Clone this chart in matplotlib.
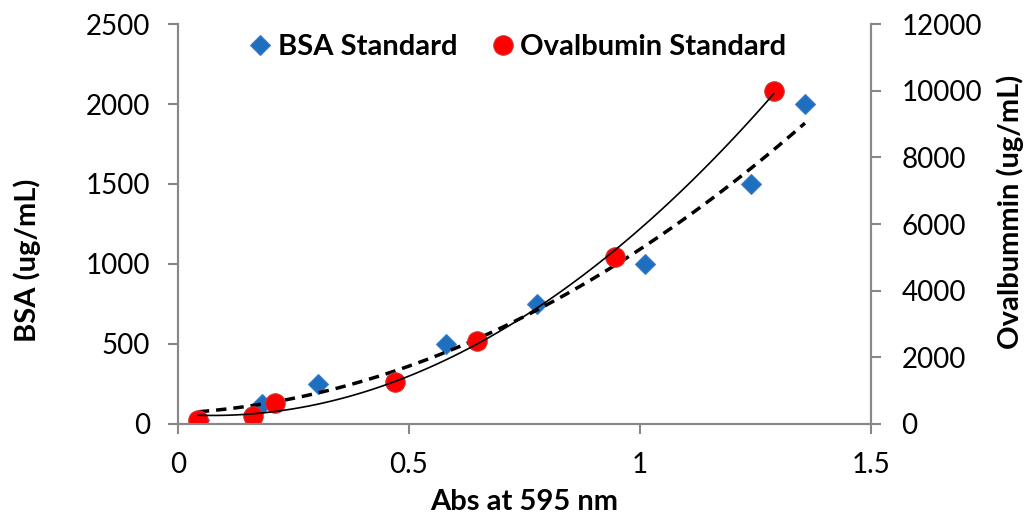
import numpy as np
import matplotlib
matplotlib.use("Agg")
from matplotlib import pyplot as plt

plt.rcParams['font.family'] = ['Lato', 'DejaVu Sans']

# BSA standard (left axis)
bsa_abs = [0.045, 0.182, 0.303, 0.581, 0.778, 1.01, 1.24, 1.357]
bsa_conc = [25, 125, 250, 500, 750, 1000, 1500, 2000]

# Ovalbumin standard (right axis)
ova_abs = [0.043, 0.163, 0.21, 0.47, 0.648, 0.945, 1.29]
ova_conc = [125, 250, 625, 1250, 2500, 5000, 10000]

grey = '#888888'


def main():
  fig = plt.figure(figsize=(10.27, 5.14), dpi=100)
  ax = fig.add_axes([178/1027, 90/514, 693/1027, 400/514])
  ax2 = ax.twinx()

  # 2次多項式近似曲線
  p_bsa = np.polyfit(bsa_abs, bsa_conc, 2)
  xb = np.linspace(min(bsa_abs), max(bsa_abs), 100)
  p_ova = np.polyfit(ova_abs, ova_conc, 2)
  xo = np.linspace(min(ova_abs), max(ova_abs), 100)

  h1, = ax.plot(bsa_abs, bsa_conc, 'D', color='#1f6fc1', markersize=10,
                markeredgecolor='#3a7fc8', markeredgewidth=0.8, zorder=2,
                label='BSA Standard')
  ax.plot(xb, np.polyval(p_bsa, xb), '--', color='black', lw=2.5,
          dashes=(3, 2), zorder=4)

  h2, = ax2.plot(ova_abs, ova_conc, 'o', color='#ff0000', markersize=14,
                 markeredgecolor='#d03030', markeredgewidth=0.8, zorder=2,
                 label='Ovalbumin Standard')
  ax2.plot(xo, np.polyval(p_ova, xo), '-', color='black', lw=1.2, zorder=4)

  ax.set_xlim(0, 1.5)
  ax.set_ylim(0, 2500)
  ax2.set_ylim(0, 12000)
  ax.set_xticks([0, 0.5, 1, 1.5])
  ax.set_xticklabels(['0', '0.5', '1', '1.5'])
  ax.set_yticks(np.arange(0, 2501, 500))
  ax2.set_yticks(np.arange(0, 12001, 2000))

  for a in (ax, ax2):
    a.spines['top'].set_visible(False)
    for s in ('left', 'right', 'bottom'):
      a.spines[s].set_color(grey)
      a.spines[s].set_linewidth(1.5)
    a.tick_params(colors=grey, labelcolor='black', labelsize=20,
                  length=7, width=1.5)
  ax.tick_params(axis='x', pad=13)
  ax.tick_params(axis='y', pad=13)
  ax2.tick_params(axis='y', pad=15)

  ax.set_xlabel('Abs at 595 nm', fontsize=21, fontweight='bold')
  ax.xaxis.set_label_coords(0.5, -0.163)
  ax.set_ylabel('BSA (ug/mL)', fontsize=21, fontweight='bold')
  ax.yaxis.set_label_coords(-0.197, 0.41)
  ax2.set_ylabel('Ovalbummin (ug/mL)', fontsize=21, fontweight='bold')
  ax2.yaxis.set_label_coords(1.181, 0.53)

  ax2.legend(handles=[h1, h2], loc='upper center',
             bbox_to_anchor=(0.49, 1.04), ncol=2, frameon=False,
             prop={'size': 21, 'weight': 'bold'}, handletextpad=0.2,
             columnspacing=1.15, handlelength=0.8)

  fig.savefig('out.png', dpi=100)


if __name__ == "__main__":
  main()
